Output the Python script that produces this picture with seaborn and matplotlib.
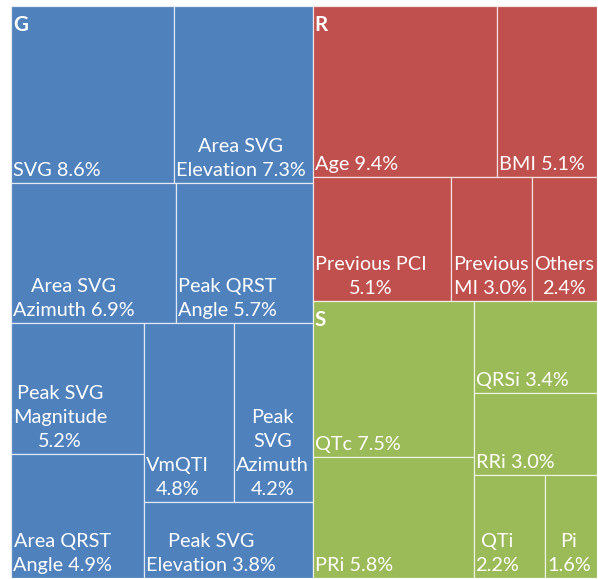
import matplotlib
matplotlib.use('Agg')
import matplotlib.pyplot as plt
import seaborn as sns
from matplotlib.patches import Rectangle

# ── data ──────────────────────────────────────────────────────────────────
names = ['SVG', 'Area SVG Elevation', 'Area SVG Azimuth', 'Peak QRST Angle',
         'Peak SVG Magnitude', 'Area QRST Angle', 'VmQTI', 'Peak SVG Azimuth',
         'Peak SVG Elevation', 'Age', 'BMI', 'Previous PCI', 'Previous MI',
         'Others', 'QTc', 'PRi', 'QRSi', 'RRi', 'QTi', 'Pi']
values = [8.6, 7.3, 6.9, 5.7, 5.2, 4.9, 4.8, 4.2, 3.8,
          9.4, 5.1, 5.1, 3.0, 2.4,
          7.5, 5.8, 3.4, 3.0, 2.2, 1.6]
groups = ['G'] * 9 + ['R'] * 5 + ['S'] * 6
tile_text = ['SVG {}', 'Area SVG\nElevation {}', 'Area SVG\nAzimuth {}',
             'Peak QRST\nAngle {}', 'Peak SVG\nMagnitude\n{}', 'Area QRST\nAngle {}',
             'VmQTI\n{}', 'Peak\nSVG\nAzimuth\n{}', 'Peak SVG\nElevation {}',
             'Age {}', 'BMI {}', 'Previous PCI\n{}', 'Previous\nMI {}', 'Others\n{}',
             'QTc {}', 'PRi {}', 'QRSi {}', 'RRi {}', 'QTi\n{}', 'Pi\n{}']
group_names = ['G', 'R', 'S']
group_colors = ['#4F81BD', '#C0504D', '#9BBB59']

# how the tiles are nested: 'row' = side by side, 'col' = stacked
layout = ('row', [
    ('col', [('row', ['SVG', 'Area SVG Elevation']),
             ('row', ['Area SVG Azimuth', 'Peak QRST Angle']),
             ('row', [('col', ['Peak SVG Magnitude', 'Area QRST Angle']),
                      ('col', [('row', ['VmQTI', 'Peak SVG Azimuth']),
                               'Peak SVG Elevation'])])]),
    ('col', [('col', [('row', ['Age', 'BMI']),
                      ('row', ['Previous PCI', 'Previous MI', 'Others'])]),
             ('row', [('col', ['QTc', 'PRi']),
                      ('col', ['QRSi', 'RRi', ('row', ['QTi', 'Pi'])])])]),
])

val = dict(zip(names, values))


def total(node):
    if isinstance(node, str):
        return val[node]
    return sum(total(c) for c in node[1])


boxes = {}


def place(node, x, y, w, h):
    if isinstance(node, str):
        boxes[node] = (x, y, w, h)
        return
    kind, kids = node
    s = total(node)
    for k in kids:
        f = total(k) / s
        if kind == 'row':
            place(k, x, y, w * f, h)
            x += w * f
        else:
            place(k, x, y, w, h * f)
            y += h * f


place(layout, 0, 0, 1, 1)

# ── drawing ───────────────────────────────────────────────────────────────
sns.set_style('white')
plt.rcParams['font.family'] = ['Lato', 'DejaVu Sans']
pal = dict(zip(group_names, sns.color_palette(group_colors)))

W, H = 598, 579
fig = plt.figure(figsize=(W / 100, H / 100), dpi=100)
ax = fig.add_axes([11 / W, 1 / H, 586 / W, 572 / H])
ax.set_xlim(0, 1)
ax.set_ylim(1, 0)
ax.axis('off')

fs = 14.3
for n, v, g, t in zip(names, values, groups, tile_text):
    x, y, w, h = boxes[n]
    ax.add_patch(Rectangle((x, y), w, h, facecolor=pal[g],
                           edgecolor=(1, 1, 1, 0.7), linewidth=0.9))
    ax.annotate(t.format(f'{v:.1f}%'), xy=(x, y + h), xytext=(2, 4),
                textcoords='offset pixels', ha='left', va='bottom',
                multialignment='center', color='white', fontsize=fs,
                linespacing=1.5)

for g in group_names:
    gx = min(boxes[n][0] for n, gg in zip(names, groups) if gg == g)
    gy = min(boxes[n][1] for n, gg in zip(names, groups) if gg == g)
    ax.annotate(g, xy=(gx, gy), xytext=(2, -9), textcoords='offset pixels',
                ha='left', va='top', color='white', fontsize=fs + 0.5,
                fontweight='bold')

plt.savefig('out.png', dpi=100)
plt.close()
